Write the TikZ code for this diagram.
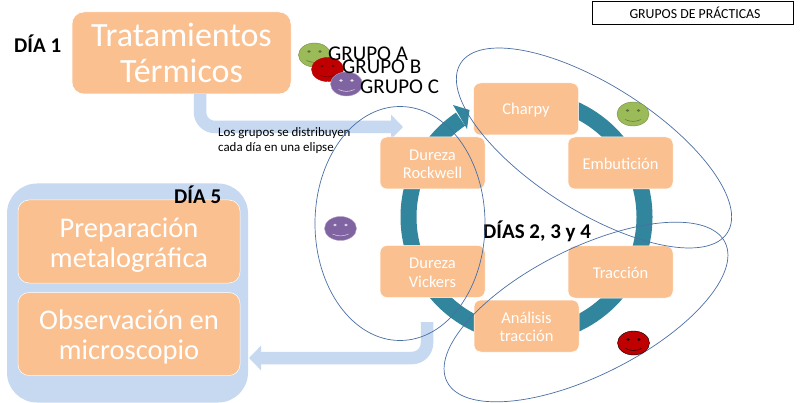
\documentclass[tikz,border=0pt]{standalone}
\usepackage{fontspec}
\setmainfont{Carlito}
\usetikzlibrary{shapes.geometric,arrows.meta}
\definecolor{boxc}{HTML}{FAC090}
\definecolor{flow}{HTML}{C6D9F1}
\definecolor{ring}{HTML}{31859C}
\definecolor{elc}{HTML}{4A6FA5}
\definecolor{gface}{HTML}{9BBB59}
\definecolor{rface}{HTML}{C00000}
\definecolor{pface}{HTML}{8064A2}
\newcommand{\nudgeS}{\rule{0pt}{13pt}}
\newcommand{\nudgeB}{\rule{0pt}{26.5pt}}
\tikzset{
  bx/.style={draw=white,line width=0.5pt,fill=boxc,rounded corners=7pt,inner sep=0pt,align=center,text=white},
  small/.style={bx,minimum width=105pt,minimum height=52pt,font=\fontsize{16.5}{18.5}\selectfont},
  big/.style={bx,rounded corners=11pt,minimum width=222pt,minimum height=83pt,font=\fontsize{28.5}{30}\selectfont},
  grupo/.style={inner sep=0pt,anchor=west,font=\fontsize{21}{23}\selectfont},
  dia/.style={inner sep=0pt,anchor=west,font=\fontsize{21}{23}\bfseries\selectfont},
  elli/.style={draw=elc,line width=0.7pt,ellipse,inner sep=0pt},
  flowline/.style={draw=flow,line width=12.5pt,rounded corners=15pt,-{Triangle[length=12pt,width=24pt]}},
  pics/face/.style args={#1/#2/#3}{code={
    \fill[#1,draw=#2,line width=0.4pt] (0,0) ellipse [x radius=16,y radius=12];
    \fill[#3] (-5.5,-3.5) ellipse [x radius=1.8,y radius=1.3];
    \fill[#3] (5.5,-3.5) ellipse [x radius=1.8,y radius=1.3];
    \draw[#3,line width=0.5pt] (-8,5.5) .. controls (-3,8) and (3,8) .. (8,5.5);
  }}
}
\begin{document}
\begin{tikzpicture}[x=1pt,y=-1pt]
\useasboundingbox (0,0) rectangle (800,403);
\fill[white] (0,0) rectangle (800,403);

% left panel
\node[fill=flow,rounded corners=30pt,minimum width=241pt,minimum height=219pt,inner sep=0pt] (panel) at (127.5,293) {};

% ring
\draw[ring,line width=16pt] (526.5,217) ++(270:118) arc[start angle=270,end angle=596,radius=118] coordinate (ringend);
\fill[ring] (453,105) -- (469.5,110) -- (467,129) -- cycle;

% flow arrows
\node[bx,rounded corners=12pt,minimum width=219pt,minimum height=82pt,font=\fontsize{34}{36}\selectfont] (trat) at (181.5,53) {Tratamientos\\Térmicos};
\coordinate (a1s) at (200,94);
\coordinate (a1e) at (403,127);
\draw[flowline] (a1s) |- (a1e);
\coordinate (a2s) at (427,322);
\coordinate (a2e) at (249,358);
\draw[flowline] (a2s) |- (a2e);

% boxes
\node[small] (charpy) at (526,109) {\nudgeS Charpy};
\node[small] (embut) at (620.5,163) {\nudgeS Embutición};
\node[small] (trac) at (620.5,272) {\nudgeS Tracción};
\node[small] (anal) at (526.5,326) {\nudgeS Análisis\\tracción};
\node[small] (vick) at (432.5,271.5) {\nudgeS Dureza\\Vickers};
\node[small] (rock) at (432.5,163) {\nudgeS Dureza\\Rockwell};
\node[big] (prep) at (129,241.5) {\nudgeB Preparación\\metalográfica};
\node[big] (obs) at (129,334) {\nudgeB Observación en\\microscopio};

% texts
\node[dia] (d1) at (14,44) {DÍA 1};
\node[dia] (d5) at (174,195) {DÍA 5};
\node[dia] (d234) at (483,231) {DÍAS 2, 3 y 4};
\node[inner sep=0pt,anchor=north west,align=left,font=\fontsize{12.9}{15}\selectfont] (txt) at (218,127.5) {Los grupos se distribuyen\\cada día en una elipse};
\node[draw=black,line width=0.8pt,minimum width=201pt,minimum height=23pt,inner sep=0pt,font=\fontsize{13.8}{15}\selectfont] (leg) at (692.5,12.5) {\hspace*{5pt}GRUPOS DE PRÁCTICAS};

% ellipses
\node[elli,minimum width=170pt,minimum height=234pt] (e1) at (400,223.5) {};
\node[elli,minimum width=316pt,minimum height=126pt,rotate=-32.4] (e2) at (594,148) {};
\node[elli,minimum width=311pt,minimum height=127pt,rotate=26.6] (e3) at (586,312) {};

% faces
\pic at (314.5,55) {face={gface/gface!75!black/gface!60!black}};
\pic at (327.5,69.5) {face={rface/rface/rface!60!black}};
\pic at (346.5,84) {face={pface/pface!60!white/white!80!pface}};
\pic at (340.5,228.5) {face={pface/pface!60!white/white!70!pface}};
\pic at (633,114) {face={gface/gface!75!black/gface!60!black}};
\pic at (633.5,343) {face={rface/black/black}};

\node[grupo] (ga) at (328,54) {GRUPO A};
\node[grupo] (gb) at (342,67) {GRUPO B};
\node[grupo] (gc) at (360,87) {GRUPO C};
\end{tikzpicture}
\end{document}
